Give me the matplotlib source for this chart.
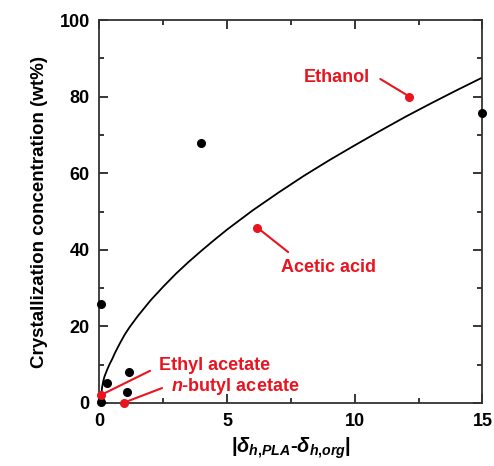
import numpy as np
import matplotlib
matplotlib.use('Agg')
import matplotlib.pyplot as plt
from matplotlib.ticker import MultipleLocator

plt.rcParams['font.family'] = ['Liberation Sans', 'DejaVu Sans']
plt.rcParams['font.weight'] = 'bold'
plt.rcParams['mathtext.fontset'] = 'custom'
plt.rcParams['mathtext.rm'] = 'Liberation Sans:bold'
plt.rcParams['mathtext.it'] = 'Liberation Sans:italic:bold'
plt.rcParams['mathtext.bf'] = 'Liberation Sans:bold'

# black points
dx_black = [0.06, 0.06, 0.29, 1.08, 1.16, 3.98, 15.0]
wt_black = [25.8, 0.3, 5.2, 2.9, 8.1, 68.0, 75.8]

# named solvents (red)
solvents = ['Ethanol', 'Acetic acid', 'Ethyl acetate', '$\\mathit{n}$-butyl acetate']
dx_red = [12.14, 6.18, 0.06, 0.96]
wt_red = [80.0, 45.8, 2.1, 0.1]

# fitted curve
curve_x = [0.07, 0.1, 0.15, 0.2, 0.3, 0.4, 0.5, 0.6, 0.8, 1.0, 1.2, 1.5, 2, 2.5, 3, 3.5,
           4, 4.5, 5, 6, 7, 8, 9, 10, 11, 12, 13, 14, 15]
curve_y = [2.0, 4.0, 5.8, 7.0, 8.7, 10.2, 11.5, 13.0, 15.6, 18.0, 20.0, 22.7, 26.8, 30.4,
           33.8, 36.9, 39.8, 42.6, 45.3, 50.3, 54.9, 59.3, 63.4, 67.3, 71.1, 74.8, 78.3,
           81.7, 85.0]

red = '#e8141f'

fig = plt.figure(figsize=(4.94, 4.66), dpi=100)
ax = fig.add_axes([0.2014, 0.1352, 0.7753, 0.8218])

ax.plot(curve_x, curve_y, color='black', lw=1.3, solid_joinstyle='round')
ax.plot(dx_black, wt_black, 'o', color='black', ms=5.5, clip_on=False, zorder=3)
ax.plot(dx_red, wt_red, 'o', color=red, ms=5.5, clip_on=False, zorder=4)

# label text position, leader start
label_pos = [(9.29, 85.1), (8.96, 35.5), (4.51, 9.9), (5.31, 4.4)]
leader_from = [(11.0, 84.6), (7.39, 39.4), (1.98, 8.4), (2.45, 3.9)]
for name, px, py, tp, lp in zip(solvents, dx_red, wt_red, label_pos, leader_from):
    ax.annotate('', xy=(px, py), xytext=lp,
                arrowprops=dict(arrowstyle='-', color=red, lw=1.5, shrinkA=0, shrinkB=0))
    ax.text(tp[0], tp[1], name, color=red, fontsize=13, fontweight='bold',
            ha='center', va='center')

ax.set_xlim(0, 15)
ax.set_ylim(0, 100)
ax.xaxis.set_major_locator(MultipleLocator(5))
ax.xaxis.set_minor_locator(MultipleLocator(2.5))
ax.yaxis.set_major_locator(MultipleLocator(20))
ax.yaxis.set_minor_locator(MultipleLocator(10))
ax.tick_params(which='both', direction='in', top=True, right=True, width=1.1,
               labelsize=13, pad=7)
ax.tick_params(which='major', length=6.5)
ax.tick_params(which='minor', length=3.6)
for s in ax.spines.values():
    s.set_linewidth(1.3)
    s.set_color('#333333')
for lab in ax.get_xticklabels() + ax.get_yticklabels():
    lab.set_fontweight('bold')

ax.set_ylabel('Crystallization concentration (wt%)', fontsize=13.5, fontweight='bold', labelpad=8)
ax.set_xlabel('|$\\delta_{h{,}PLA}$-$\\delta_{h{,}org}$|', fontsize=14.5, fontweight='bold',
              labelpad=4)

fig.savefig('out.png', dpi=100)
